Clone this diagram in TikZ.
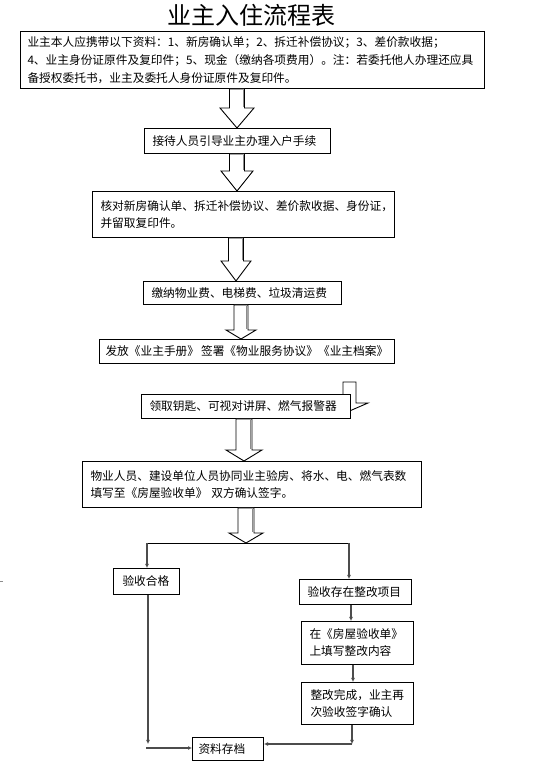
\documentclass[tikz,border=0pt]{standalone}
\usepackage{fontspec}
\setmainfont{Noto Sans CJK SC}
\usetikzlibrary{arrows.meta,calc}
\tikzset{
  box/.style={draw=black, line width=1pt, fill=white, anchor=north west, inner xsep=7pt, inner ysep=0pt, align=left, font=\fontsize{11.7}{17}\selectfont},
  blk/.style={draw=black, line width=0.9pt, fill=white, line join=miter},
  blkshade/.style={draw=black!45, line width=1.2pt},
  conn/.style={draw=black!70, line width=1.1pt, -{Latex[length=4pt,width=4pt]}},
  splitline/.style={draw=black, line width=0.8pt},
}
% #1 x centre, #2 top point, #3 tip point, #4 shaft half width, #5 head half width, #6 head height
\newcommand{\blockarrow}[6]{%
  \draw[blk] let \p1=(#2), \p2=(#3) in
    ({(#1-#4)*1pt},\y1) -- ({(#1-#4)*1pt},{\y2+#6pt}) -- ({(#1-#5)*1pt},{\y2+#6pt}) -- ({#1*1pt},\y2)
    -- ({(#1+#5)*1pt},{\y2+#6pt}) -- ({(#1+#4)*1pt},{\y2+#6pt}) -- ({(#1+#4)*1pt},\y1) -- cycle;
  \draw[blkshade] let \p1=(#2), \p2=(#3) in
    ({(#1+#4-1.4)*1pt},{\y1-0.6pt}) -- ({(#1+#4-1.4)*1pt},{\y2+#6pt+0.6pt});
}
\begin{document}
\begin{tikzpicture}[x=1pt, y=1pt]
\fill[white] (0,0) rectangle (552,774);
\useasboundingbox (0,0) rectangle (552,774);

% title
\node (title) at (251,759) {\fontsize{24}{24}\selectfont 业主入住流程表};

% partial block arrow hidden behind box 6
\draw[blk] (343,392) -- (343,371) -- (331,371) -- (349.5,363) -- (368,371) -- (356,371) -- (356,392) -- cycle;

% boxes
\node[box, text width=450pt, minimum height=57pt, font=\fontsize{11.7}{17.8}\selectfont] (b1) at (20,743)
  {业主本人应携带以下资料：1、新房确认单；2、拆迁补偿协议；3、差价款收据；\\
   4、业主身份证原件及复印件；5、现金（缴纳各项费用）。注：若委托他人办理还应具\\
   备授权委托书，业主及委托人身份证原件及复印件。};
\node[box, inner xsep=8pt, text width=170pt, minimum height=25pt] (b2) at (144,646)
  {接待人员引导业主办理入户手续};
\node[box, inner xsep=8pt, text width=286pt, minimum height=46pt] (b3) at (92,583)
  {\mbox{核对新房确认单、拆迁补偿协议、差价款收据、身份证，}\\并留取复印件。};
\node[box, inner xsep=8pt, text width=182pt, minimum height=23pt] (b4) at (143,493)
  {缴纳物业费、电梯费、垃圾清运费};
\node[box, inner xsep=6pt, text width=283pt, minimum height=24pt] (b5) at (99,435)
  {\mbox{发放《业主手册》\hspace{2pt}签署《物业服务协议》《业主档案》}};
\node[box, inner xsep=8pt, text width=193pt, minimum height=24pt] (b6) at (141,380)
  {领取钥匙、可视对讲屏、燃气报警器};
\node[box, inner xsep=8pt, text width=323pt, minimum height=46pt] (b7) at (82,313)
  {\mbox{物业人员、建设单位人员协同业主验房、将水、电、燃气表数}\\填写至《房屋验收单》 双方确认签字。};
\node[box, inner xsep=9pt, text width=48pt, minimum height=26pt] (ok) at (113,206) {验收合格};
\node[box, inner xsep=8pt, text width=96pt, minimum height=25pt] (fix) at (299,195) {验收存在整改项目};
\node[box, inner xsep=8pt, text width=96pt, minimum height=43pt] (fill) at (301,153) {在《房屋验收单》\\上填写整改内容};
\node[box, inner xsep=9pt, text width=94pt, minimum height=42pt] (done) at (301,92) {整改完成，业主再\\次验收签字确认};
\node[box, inner xsep=6pt, text width=59pt, minimum height=23pt] (arch) at (192,37) {资料存档};

% block arrows
\blockarrow{237}{b1.south}{b2.north}{7.5}{17}{20}
\blockarrow{237}{b2.south}{b3.north}{7.5}{16}{20}
\blockarrow{236}{b3.south}{b4.north}{7.5}{15}{20}
\blockarrow{241}{b4.south}{b5.north}{7}{15}{9}
\blockarrow{244}{b6.south}{b7.north}{8}{18}{11}
\coordinate (split) at (246,231);
\blockarrow{246}{b7.south}{split}{8}{17}{10}

% split line and connectors
\coordinate (sl) at (147,231);
\coordinate (sr) at (349,231);
\draw[splitline] (sl) -- (sr);
\draw[conn] (sl) -- (ok.north -| sl);
\draw[conn] (sr) -- (fix.north -| sr);
\coordinate (x1) at (351,0);
\draw[conn] (fix.south -| x1) -- (fill.north -| x1);
\coordinate (x2) at (353,0);
\draw[conn] (fill.south -| x2) -- (done.north -| x2);
\coordinate (cr) at (352,30);
\draw[conn] (done.south -| cr) -- (cr);
\draw[conn] (cr) -- (arch.east |- cr);
\coordinate (cl) at (148,30);
\draw[conn] (ok.south -| cl) -- (cl);
\coordinate (cl2) at (146,26);
\draw[conn] (cl2) -- (arch.west |- cl2);

% stray mark at the left edge
\draw[black!45, line width=0.8pt] (0,193) -- (3,193);
\end{tikzpicture}
\end{document}
